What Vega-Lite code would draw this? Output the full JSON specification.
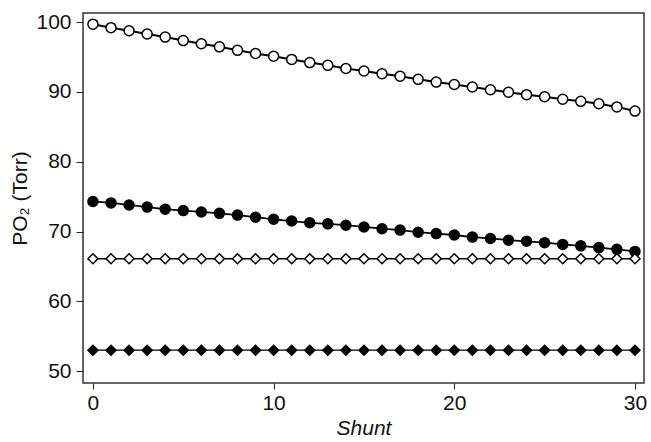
{
  "$schema": "https://vega.github.io/schema/vega-lite/v6.json",
  "width": 561,
  "height": 370,
  "autosize": {"type": "none"},
  "padding": {"left": 83, "top": 13, "right": 7, "bottom": 59},
  "background": "white",
  "config": {
    "view": {"stroke": "#333", "strokeWidth": 1.5},
    "font": "Liberation Sans",
    "axis": {"grid": false, "domain": false, "tickColor": "#222", "tickSize": 6, "tickWidth": 1, "labelFont": "Liberation Sans", "labelFontSize": 21, "labelColor": "#111", "titleFont": "Liberation Sans", "titleFontSize": 21, "titleFontWeight": "normal", "titleColor": "#111"}
  },
  "datasets": {
    "d": [
      {"shunt": 0, "po2": 99.7, "s": "A"}, {"shunt": 1, "po2": 99.2, "s": "A"}, {"shunt": 2, "po2": 98.75, "s": "A"}, {"shunt": 3, "po2": 98.3, "s": "A"}, {"shunt": 4, "po2": 97.85, "s": "A"}, {"shunt": 5, "po2": 97.35, "s": "A"}, {"shunt": 6, "po2": 96.9, "s": "A"}, {"shunt": 7, "po2": 96.45, "s": "A"}, {"shunt": 8, "po2": 95.95, "s": "A"}, {"shunt": 9, "po2": 95.5, "s": "A"}, {"shunt": 10, "po2": 95.1, "s": "A"}, {"shunt": 11, "po2": 94.65, "s": "A"}, {"shunt": 12, "po2": 94.2, "s": "A"}, {"shunt": 13, "po2": 93.8, "s": "A"}, {"shunt": 14, "po2": 93.35, "s": "A"}, {"shunt": 15, "po2": 93.0, "s": "A"}, {"shunt": 16, "po2": 92.6, "s": "A"}, {"shunt": 17, "po2": 92.25, "s": "A"}, {"shunt": 18, "po2": 91.8, "s": "A"}, {"shunt": 19, "po2": 91.4, "s": "A"}, {"shunt": 20, "po2": 91.05, "s": "A"}, {"shunt": 21, "po2": 90.7, "s": "A"}, {"shunt": 22, "po2": 90.3, "s": "A"}, {"shunt": 23, "po2": 89.95, "s": "A"}, {"shunt": 24, "po2": 89.6, "s": "A"}, {"shunt": 25, "po2": 89.3, "s": "A"}, {"shunt": 26, "po2": 88.95, "s": "A"}, {"shunt": 27, "po2": 88.65, "s": "A"}, {"shunt": 28, "po2": 88.3, "s": "A"}, {"shunt": 29, "po2": 87.85, "s": "A"}, {"shunt": 30, "po2": 87.25, "s": "A"},
      {"shunt": 0, "po2": 74.3, "s": "B"}, {"shunt": 1, "po2": 74.1, "s": "B"}, {"shunt": 2, "po2": 73.8, "s": "B"}, {"shunt": 3, "po2": 73.5, "s": "B"}, {"shunt": 4, "po2": 73.2, "s": "B"}, {"shunt": 5, "po2": 73.0, "s": "B"}, {"shunt": 6, "po2": 72.8, "s": "B"}, {"shunt": 7, "po2": 72.6, "s": "B"}, {"shunt": 8, "po2": 72.35, "s": "B"}, {"shunt": 9, "po2": 72.05, "s": "B"}, {"shunt": 10, "po2": 71.75, "s": "B"}, {"shunt": 11, "po2": 71.5, "s": "B"}, {"shunt": 12, "po2": 71.25, "s": "B"}, {"shunt": 13, "po2": 71.1, "s": "B"}, {"shunt": 14, "po2": 70.9, "s": "B"}, {"shunt": 15, "po2": 70.65, "s": "B"}, {"shunt": 16, "po2": 70.4, "s": "B"}, {"shunt": 17, "po2": 70.2, "s": "B"}, {"shunt": 18, "po2": 69.9, "s": "B"}, {"shunt": 19, "po2": 69.7, "s": "B"}, {"shunt": 20, "po2": 69.5, "s": "B"}, {"shunt": 21, "po2": 69.2, "s": "B"}, {"shunt": 22, "po2": 69.0, "s": "B"}, {"shunt": 23, "po2": 68.75, "s": "B"}, {"shunt": 24, "po2": 68.6, "s": "B"}, {"shunt": 25, "po2": 68.4, "s": "B"}, {"shunt": 26, "po2": 68.15, "s": "B"}, {"shunt": 27, "po2": 67.95, "s": "B"}, {"shunt": 28, "po2": 67.7, "s": "B"}, {"shunt": 29, "po2": 67.45, "s": "B"}, {"shunt": 30, "po2": 67.15, "s": "B"},
      {"shunt": 0, "po2": 66.1, "s": "C"}, {"shunt": 1, "po2": 66.1, "s": "C"}, {"shunt": 2, "po2": 66.1, "s": "C"}, {"shunt": 3, "po2": 66.1, "s": "C"}, {"shunt": 4, "po2": 66.1, "s": "C"}, {"shunt": 5, "po2": 66.1, "s": "C"}, {"shunt": 6, "po2": 66.1, "s": "C"}, {"shunt": 7, "po2": 66.1, "s": "C"}, {"shunt": 8, "po2": 66.1, "s": "C"}, {"shunt": 9, "po2": 66.1, "s": "C"}, {"shunt": 10, "po2": 66.1, "s": "C"}, {"shunt": 11, "po2": 66.1, "s": "C"}, {"shunt": 12, "po2": 66.1, "s": "C"}, {"shunt": 13, "po2": 66.1, "s": "C"}, {"shunt": 14, "po2": 66.1, "s": "C"}, {"shunt": 15, "po2": 66.1, "s": "C"}, {"shunt": 16, "po2": 66.1, "s": "C"}, {"shunt": 17, "po2": 66.1, "s": "C"}, {"shunt": 18, "po2": 66.1, "s": "C"}, {"shunt": 19, "po2": 66.1, "s": "C"}, {"shunt": 20, "po2": 66.1, "s": "C"}, {"shunt": 21, "po2": 66.1, "s": "C"}, {"shunt": 22, "po2": 66.1, "s": "C"}, {"shunt": 23, "po2": 66.1, "s": "C"}, {"shunt": 24, "po2": 66.1, "s": "C"}, {"shunt": 25, "po2": 66.1, "s": "C"}, {"shunt": 26, "po2": 66.1, "s": "C"}, {"shunt": 27, "po2": 66.1, "s": "C"}, {"shunt": 28, "po2": 66.1, "s": "C"}, {"shunt": 29, "po2": 66.1, "s": "C"}, {"shunt": 30, "po2": 66.1, "s": "C"},
      {"shunt": 0, "po2": 53.0, "s": "D"}, {"shunt": 1, "po2": 53.0, "s": "D"}, {"shunt": 2, "po2": 53.0, "s": "D"}, {"shunt": 3, "po2": 53.0, "s": "D"}, {"shunt": 4, "po2": 53.0, "s": "D"}, {"shunt": 5, "po2": 53.0, "s": "D"}, {"shunt": 6, "po2": 53.0, "s": "D"}, {"shunt": 7, "po2": 53.0, "s": "D"}, {"shunt": 8, "po2": 53.0, "s": "D"}, {"shunt": 9, "po2": 53.0, "s": "D"}, {"shunt": 10, "po2": 53.0, "s": "D"}, {"shunt": 11, "po2": 53.0, "s": "D"}, {"shunt": 12, "po2": 53.0, "s": "D"}, {"shunt": 13, "po2": 53.0, "s": "D"}, {"shunt": 14, "po2": 53.0, "s": "D"}, {"shunt": 15, "po2": 53.0, "s": "D"}, {"shunt": 16, "po2": 53.0, "s": "D"}, {"shunt": 17, "po2": 53.0, "s": "D"}, {"shunt": 18, "po2": 53.0, "s": "D"}, {"shunt": 19, "po2": 53.0, "s": "D"}, {"shunt": 20, "po2": 53.0, "s": "D"}, {"shunt": 21, "po2": 53.0, "s": "D"}, {"shunt": 22, "po2": 53.0, "s": "D"}, {"shunt": 23, "po2": 53.0, "s": "D"}, {"shunt": 24, "po2": 53.0, "s": "D"}, {"shunt": 25, "po2": 53.0, "s": "D"}, {"shunt": 26, "po2": 53.0, "s": "D"}, {"shunt": 27, "po2": 53.0, "s": "D"}, {"shunt": 28, "po2": 53.0, "s": "D"}, {"shunt": 29, "po2": 53.0, "s": "D"}, {"shunt": 30, "po2": 53.0, "s": "D"}
    ]
  },
  "data": {"name": "d"},
  "encoding": {
    "x": {"field": "shunt", "type": "quantitative", "scale": {"domain": [-0.55, 30.5], "nice": false, "zero": false}, "axis": {"values": [0, 10, 20, 30], "title": "Shunt", "titleFontStyle": "italic", "titlePadding": 4, "labelPadding": 3}},
    "y": {"field": "po2", "type": "quantitative", "scale": {"domain": [48.3, 101.3], "nice": false, "zero": false}, "axis": {"values": [50, 60, 70, 80, 90, 100], "title": "PO₂ (Torr)", "titlePadding": 5, "labelPadding": 5, "tickSize": 7}}
  },
  "layer": [
    {
      "mark": {"type": "line", "color": "black"},
      "encoding": {
        "detail": {"field": "s"},
        "strokeWidth": {"field": "s", "type": "nominal", "scale": {"domain": ["A", "B", "C", "D"], "range": [2, 1.3, 1.3, 1.5]}, "legend": null}
      }
    },
    {
      "mark": {"type": "point", "filled": true, "stroke": "black", "strokeWidth": 1.5, "opacity": 1},
      "encoding": {
        "shape": {"field": "s", "type": "nominal", "scale": {"domain": ["A", "B", "C", "D"], "range": ["circle", "circle", "diamond", "diamond"]}, "legend": null},
        "fill": {"field": "s", "type": "nominal", "scale": {"domain": ["A", "B", "C", "D"], "range": ["white", "black", "white", "black"]}, "legend": null},
        "size": {"field": "s", "type": "nominal", "scale": {"domain": ["A", "B", "C", "D"], "range": [100, 100, 110, 120]}, "legend": null}
      }
    }
  ]
}
